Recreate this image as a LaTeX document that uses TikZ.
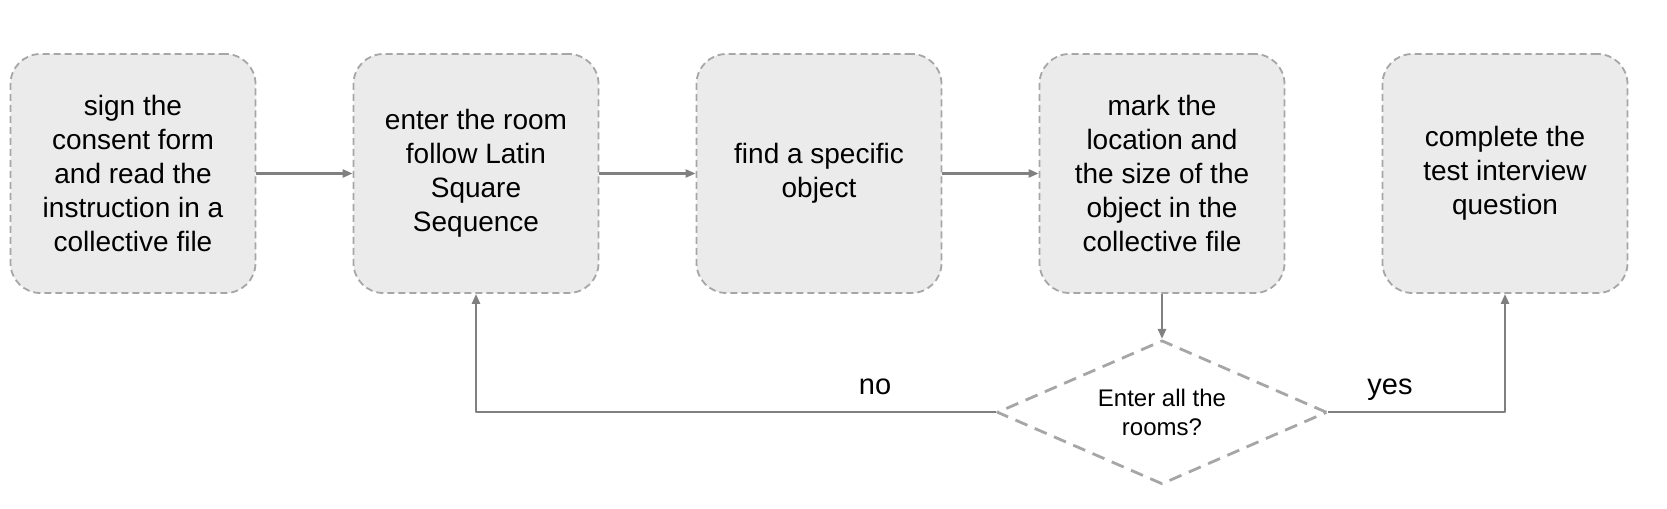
\documentclass[tikz,border=0pt]{standalone}
\usepackage{fontspec}
\setmainfont{Liberation Sans}
\usetikzlibrary{positioning,shapes.geometric,arrows.meta}
\definecolor{BoxFill}{HTML}{EBEBEB}
\definecolor{BoxEdge}{HTML}{A6A6A6}
\definecolor{FlowGray}{HTML}{808080}
\tikzset{
  stepbox/.style={draw=BoxEdge,fill=BoxFill,line width=0.9pt,dash pattern=on 3.5pt off 2pt,
    rounded corners=15pt,minimum width=122.5pt,minimum height=119.5pt,inner sep=0pt,
    align=center,font=\fontsize{14}{17}\selectfont},
  decision/.style={diamond,draw=BoxEdge,line width=1.4pt,dash pattern=on 6.5pt off 4pt,
    aspect=2.25,minimum width=165pt,minimum height=72pt,inner sep=0pt,
    align=center,font=\fontsize{12}{14.5}\selectfont},
  flow/.style={draw=FlowGray,line width=1.2pt,-{Triangle[length=5pt,width=4pt]}},
  branch/.style={anchor=base,inner sep=0pt,font=\fontsize{14.5}{17}\selectfont}
}
\begin{document}
\begin{tikzpicture}[x=0.5pt,y=0.5pt,line join=round]
  \useasboundingbox (0,0) rectangle (1667,509);
  % the five steps in one row
  \node[stepbox] (consent) at (133,335.5) {sign the\\consent form\\and read the\\instruction in a\\collective file};
  \node[stepbox,right=48.1pt of consent] (enter) {enter the room\\follow Latin\\Square\\Sequence};
  \node[stepbox,right=48.1pt of enter] (find) {find a specific\\object};
  \node[stepbox,right=48.1pt of find] (mark) {mark the\\location and\\the size of the\\object in the\\collective file};
  \node[stepbox,right=48.1pt of mark] (interview) {complete the\\test interview\\question};
  \node[decision,below=22.5pt of mark] (check) {Enter all the\\rooms?};
  \draw[flow] (consent) -- (enter);
  \draw[flow] (enter) -- (find);
  \draw[flow] (find) -- (mark);
  \draw[flow] (mark) -- (check);
  % loop back or finish
  \draw[flow] (check.west) -- (check.west -| enter.south) -- (enter.south);
  \draw[flow] (check.east) -- (check.east -| interview.south) -- (interview.south);
  \node[branch] (no) at (875,114) {no};
  \node[branch] (yes) at (1390,114) {yes};
\end{tikzpicture}
\end{document}
